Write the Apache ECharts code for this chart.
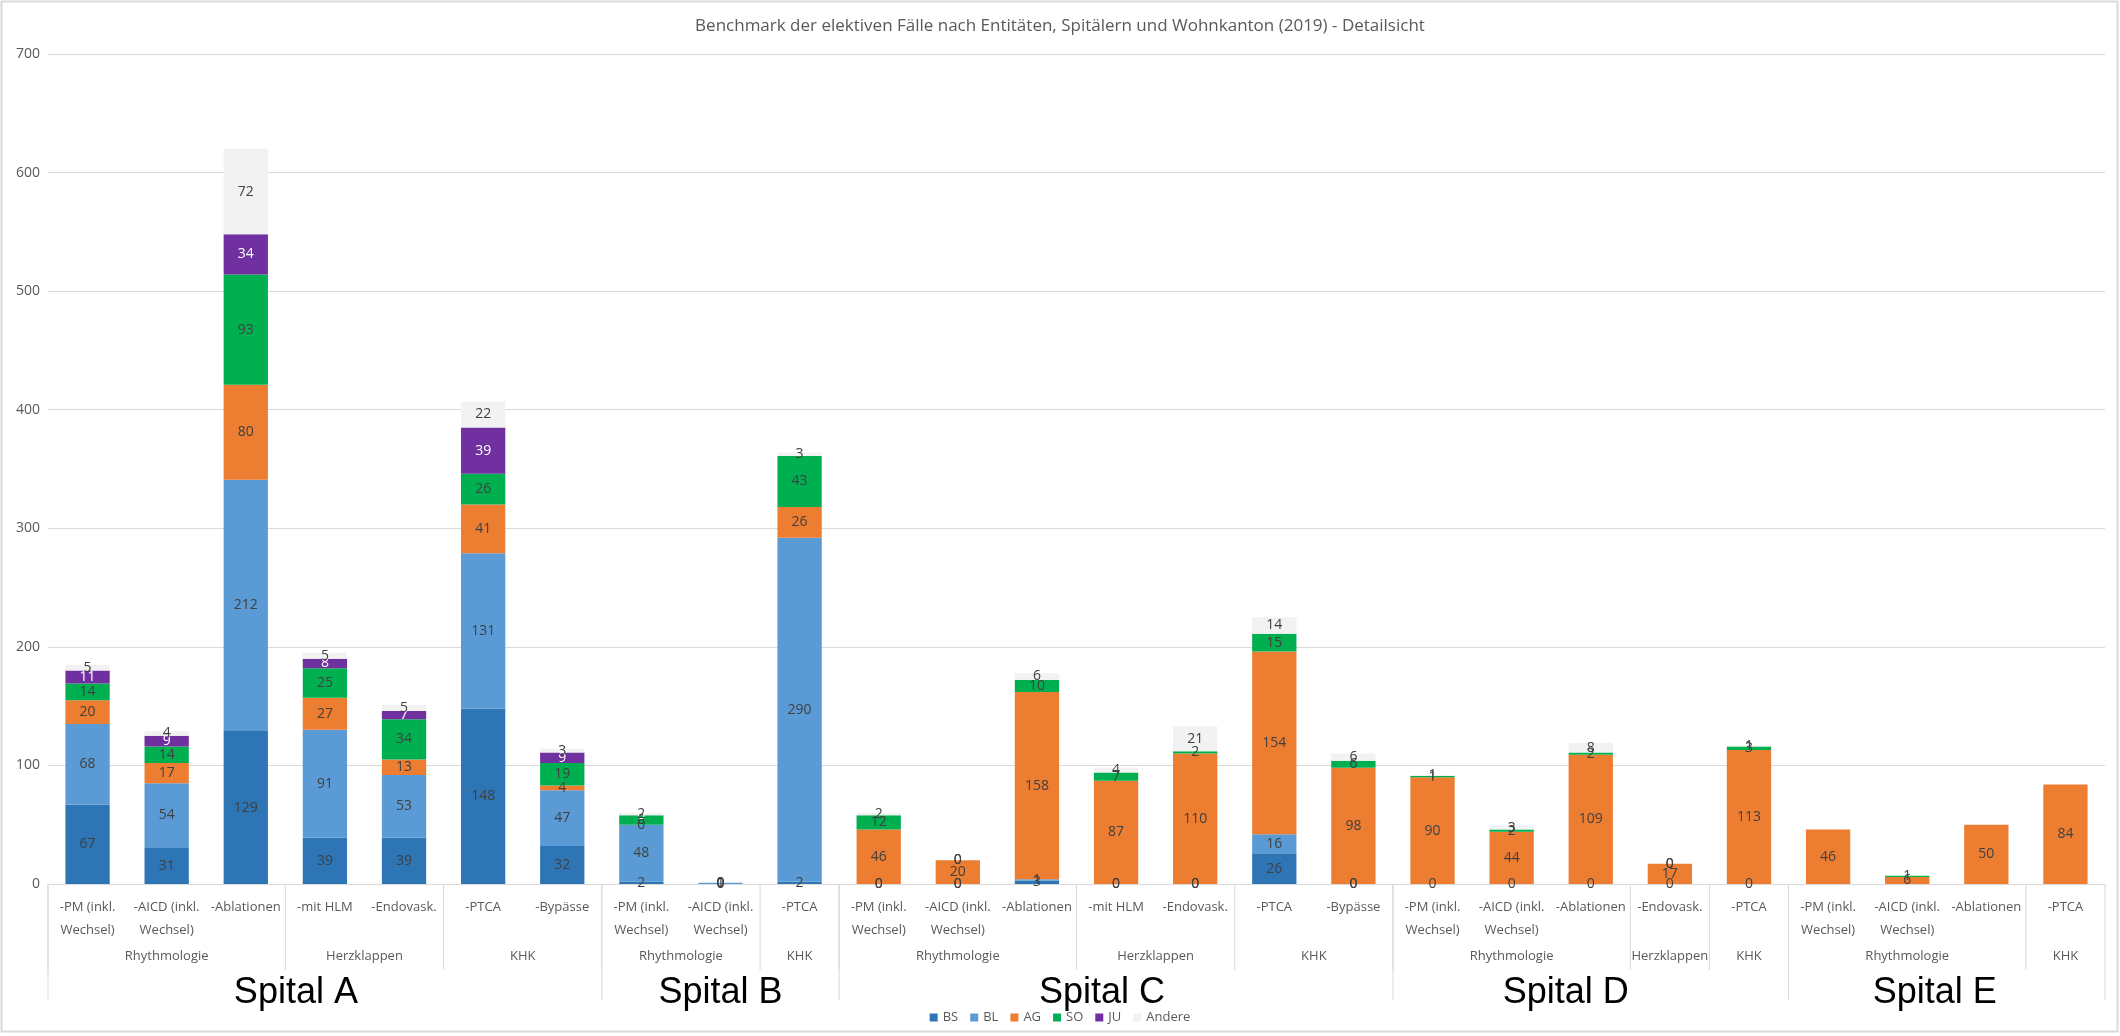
<!DOCTYPE html>
<html>
<head>
<meta charset="utf-8">
<script src="https://cdn.jsdelivr.net/npm/echarts@6/dist/echarts.min.js"></script>
<style>
  html, body { margin: 0; padding: 0; background: #fff; }
  #chart { width: 2120px; height: 1036px; }
</style>
</head>
<body>
<div id="chart"></div>
<script>
// Procedures (first axis level)
const categories = [
  '-PM (inkl.\nWechsel)', '-AICD (inkl.\nWechsel)', '-Ablationen', '-mit HLM', '-Endovask.', '-PTCA', '-Bypässe',
  '-PM (inkl.\nWechsel)', '-AICD (inkl.\nWechsel)', '-PTCA',
  '-PM (inkl.\nWechsel)', '-AICD (inkl.\nWechsel)', '-Ablationen', '-mit HLM', '-Endovask.', '-PTCA', '-Bypässe',
  '-PM (inkl.\nWechsel)', '-AICD (inkl.\nWechsel)', '-Ablationen', '-Endovask.', '-PTCA',
  '-PM (inkl.\nWechsel)', '-AICD (inkl.\nWechsel)', '-Ablationen', '-PTCA'
];

// Entities (second axis level) and how many procedures each covers
const entityLabels = ['Rhythmologie', 'Herzklappen', 'KHK',
                      'Rhythmologie', 'KHK',
                      'Rhythmologie', 'Herzklappen', 'KHK',
                      'Rhythmologie', 'Herzklappen', 'KHK',
                      'Rhythmologie', 'KHK'];
const entitySpans = [3, 2, 2, 2, 1, 3, 2, 2, 3, 1, 1, 3, 1];

// Hospitals (third level)
const hospitalLabels = ['Spital A', 'Spital B', 'Spital C', 'Spital D', 'Spital E'];
const hospitalSpans = [7, 3, 7, 5, 4];

// Cases by canton of residence
const cantons = ['BS', 'BL', 'AG', 'SO', 'JU', 'Andere'];
const valuesBS = [67, 31, 129, 39, 39, 148, 32,  2, 0, 2,    0, 0, 3, 0, 0, 26, 0,   0, 0, 0, 0, 0,   null, null, null, null];
const valuesBL = [68, 54, 212, 91, 53, 131, 47,  48, 1, 290, 0, 0, 1, 0, 0, 16, 0,   null, null, null, null, null,   null, null, null, null];
const valuesAG = [20, 17, 80, 27, 13, 41, 4,     0, 0, 26,   46, 20, 158, 87, 110, 154, 98,   90, 44, 109, 17, 113,   46, 6, 50, 84];
const valuesSO = [14, 14, 93, 25, 34, 26, 19,    8, 0, 43,   12, 0, 10, 7, 2, 15, 6,   1, 2, 2, 0, 3,   null, 1, null, null];
const valuesJU = [11, 9, 34, 8, 7, 39, 9,        0, null, null,   null, null, null, null, null, null, null,   null, null, null, null, null,   null, null, null, null];
const valuesAndere = [5, 4, 72, 5, 5, 22, 3,     2, null, 3,   2, 0, 6, 4, 21, 14, 6,   1, 3, 8, 0, 1,   null, null, null, null];

const yTicks = [0, 100, 200, 300, 400, 500, 600, 700];

const seriesValues = [valuesBS, valuesBL, valuesAG, valuesSO, valuesJU, valuesAndere];
const colors = ['#2E75B6', '#5B9BD5', '#ED7D31', '#00B050', '#7030A0', '#F2F2F2'];
const labelColors = ['#404040', '#404040', '#404040', '#404040', '#FFFFFF', '#404040'];

const FONT = '"Open Sans", "Liberation Sans", sans-serif';
const chart = echarts.init(document.getElementById('chart'));

chart.setOption({
  animation: false,
  backgroundColor: '#FFFFFF',
  color: colors,
  title: {
    text: 'Benchmark der elektiven Fälle nach Entitäten, Spitälern und Wohnkanton (2019) - Detailsicht',
    left: 'center',
    top: 13,
    textStyle: { fontFamily: FONT, fontSize: 17, fontWeight: 'normal', color: '#595959' }
  },
  legend: {
    data: cantons,
    top: 1006,
    left: 'center',
    itemWidth: 8,
    itemHeight: 8,
    itemGap: 12,
    icon: 'rect',
    textStyle: { fontFamily: FONT, fontSize: 13, color: '#595959' }
  },
  grid: { left: 48, right: 15, top: 54, bottom: 152, containLabel: false },
  xAxis: {
    type: 'category',
    data: categories,
    axisLine: { show: true, lineStyle: { color: '#D9D9D9', width: 1 } },
    axisTick: { show: false },
    axisLabel: {
      interval: 0,
      margin: 12,
      fontFamily: FONT,
      fontSize: 13,
      lineHeight: 23,
      color: '#595959'
    }
  },
  yAxis: {
    type: 'value',
    min: yTicks[0],
    max: yTicks[yTicks.length - 1],
    interval: 100,
    axisLine: { show: false },
    axisTick: { show: false },
    splitLine: { lineStyle: { color: '#D9D9D9', width: 1 } },
    axisLabel: { fontFamily: FONT, fontSize: 14, color: '#595959', margin: 8 }
  },
  series: cantons.map((name, i) => ({
    name: name,
    type: 'bar',
    stack: 'total',
    barCategoryGap: '44%',
    data: seriesValues[i],
    itemStyle: { color: colors[i] },
    label: {
      show: true,
      position: 'inside',
      fontFamily: FONT,
      fontSize: 14,
      color: labelColors[i]
    }
  }))
});

// Entity and hospital levels of the category axis, placed from the axis scale
function drawAxisLevels() {
  const x0 = chart.convertToPixel({ xAxisIndex: 0 }, 0);
  const x1 = chart.convertToPixel({ xAxisIndex: 0 }, 1);
  const half = (x1 - x0) / 2;
  const edge = (idx) => chart.convertToPixel({ xAxisIndex: 0 }, idx) - half;
  const axisY = chart.convertToPixel({ yAxisIndex: 0 }, 0);
  const lineStyle = { stroke: '#D9D9D9', lineWidth: 1 };
  // hospital captions sit slightly left of their span centres
  const captionShift = [-29, 0, -14, -25, -12];
  const elements = [];

  // entity boundaries and labels
  let start = 0;
  entitySpans.forEach((span, k) => {
    const left = edge(start);
    const right = edge(start) + span * 2 * half;
    elements.push({
      type: 'text', silent: true,
      style: {
        text: entityLabels[k], x: (left + right) / 2, y: 956,
        textAlign: 'center', textVerticalAlign: 'middle',
        font: '13px ' + FONT, fill: '#595959'
      }
    });
    elements.push({ type: 'line', silent: true, shape: { x1: left, y1: axisY, x2: left, y2: 970 }, style: lineStyle });
    start += span;
  });
  elements.push({ type: 'line', silent: true,
    shape: { x1: edge(start), y1: axisY, x2: edge(start), y2: 1000 }, style: lineStyle });

  // hospital boundaries and labels
  start = 0;
  hospitalSpans.forEach((span, k) => {
    const left = edge(start);
    const right = edge(start) + span * 2 * half;
    elements.push({ type: 'line', silent: true, shape: { x1: left, y1: axisY, x2: left, y2: 1000 }, style: lineStyle });
    elements.push({
      type: 'text', silent: true,
      style: {
        text: hospitalLabels[k], x: (left + right) / 2 + captionShift[k], y: 993,
        textAlign: 'center', textVerticalAlign: 'middle',
        font: '36px "Liberation Sans", Arial, sans-serif', fill: '#000000'
      }
    });
    start += span;
  });

  // chart frame
  elements.push({ type: 'rect', silent: true, shape: { x: 1.5, y: 1.5, width: 2116, height: 1030 },
    style: { fill: 'none', stroke: '#D9D9D9', lineWidth: 2 } });

  chart.setOption({ graphic: elements });
}
drawAxisLevels();
</script>
</body>
</html>
